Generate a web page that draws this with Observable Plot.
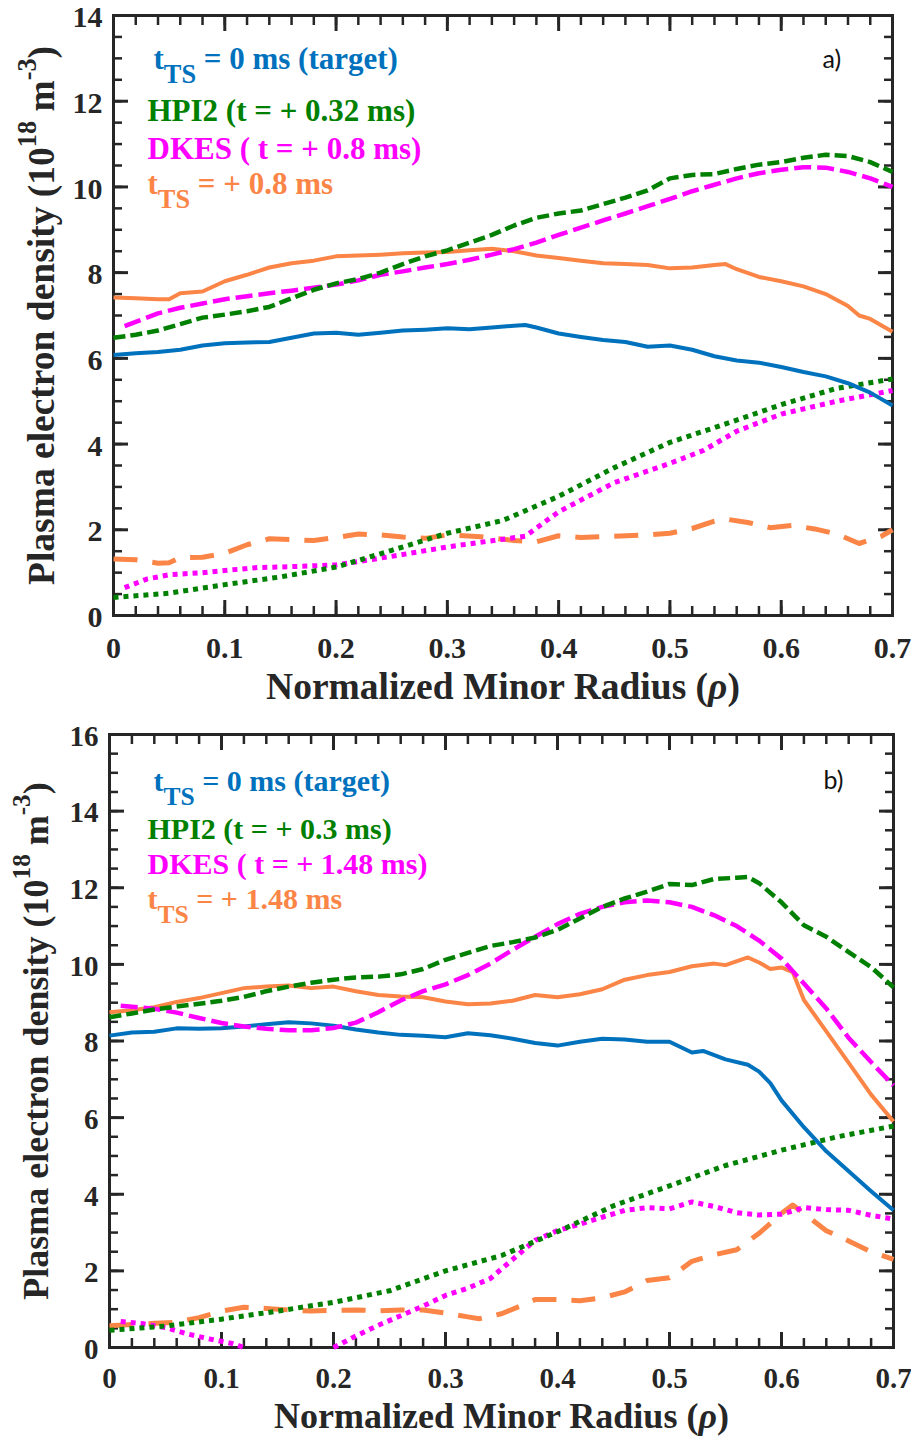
<!DOCTYPE html>
<html>
<head>
<meta charset="utf-8">
<script src="https://cdn.jsdelivr.net/npm/d3@7"></script>
<script src="https://cdn.jsdelivr.net/npm/@observablehq/plot@0.6"></script>
<style>
  html, body { margin: 0; padding: 0; background: #fff; }
  #chart svg { display: block; }
</style>
</head>
<body>
<div id="chart"></div>
<script>
// ---------- axes ----------
const X_TICKS = [0, 0.1, 0.2, 0.3, 0.4, 0.5, 0.6, 0.7];
const X_TICK_LABELS = ["0", "0.1", "0.2", "0.3", "0.4", "0.5", "0.6", "0.7"];
const Y_TICKS_A = [0, 2, 4, 6, 8, 10, 12, 14];
const Y_TICKS_B = [0, 2, 4, 6, 8, 10, 12, 14, 16];
const X_TITLE = "Normalized Minor Radius (~{ρ})";
const Y_TITLE = "Plasma electron density (10^{18} m^{-3})";

// ---------- panel a: t_TS = +0.8 ms ----------
const LEGEND_A = ["t_{TS} = 0 ms (target)", "HPI2 (t = + 0.32 ms)", "DKES ( t = + 0.8 ms)", "t_{TS} = + 0.8 ms"];

const aTargetRho = [0, 0.02, 0.04, 0.06, 0.08, 0.10, 0.12, 0.14, 0.16, 0.18, 0.20, 0.22, 0.24, 0.26, 0.28, 0.30, 0.32, 0.34, 0.36, 0.37, 0.38, 0.40, 0.42, 0.44, 0.46, 0.48, 0.50, 0.52, 0.54, 0.56, 0.58, 0.60, 0.62, 0.64, 0.66, 0.68, 0.70];
const aTargetNe  = [6.08, 6.12, 6.15, 6.2, 6.3, 6.35, 6.37, 6.38, 6.48, 6.58, 6.6, 6.55, 6.6, 6.65, 6.67, 6.7, 6.68, 6.72, 6.76, 6.78, 6.72, 6.58, 6.5, 6.43, 6.38, 6.27, 6.3, 6.2, 6.05, 5.95, 5.9, 5.8, 5.68, 5.58, 5.42, 5.2, 4.9];

const aTsRho = [0, 0.02, 0.04, 0.05, 0.06, 0.08, 0.10, 0.12, 0.14, 0.16, 0.18, 0.20, 0.22, 0.24, 0.26, 0.28, 0.30, 0.32, 0.34, 0.36, 0.38, 0.40, 0.42, 0.44, 0.46, 0.48, 0.50, 0.52, 0.54, 0.55, 0.56, 0.58, 0.60, 0.62, 0.64, 0.66, 0.67, 0.68, 0.70];
const aTsNe  = [7.42, 7.4, 7.38, 7.38, 7.52, 7.56, 7.8, 7.95, 8.12, 8.22, 8.28, 8.38, 8.4, 8.42, 8.45, 8.47, 8.48, 8.52, 8.56, 8.5, 8.4, 8.34, 8.28, 8.22, 8.2, 8.18, 8.1, 8.12, 8.18, 8.2, 8.08, 7.9, 7.8, 7.68, 7.5, 7.22, 7.0, 6.92, 6.62];

const aHpiRho = [0, 0.02, 0.04, 0.06, 0.08, 0.10, 0.12, 0.14, 0.16, 0.18, 0.20, 0.22, 0.24, 0.26, 0.28, 0.30, 0.32, 0.34, 0.36, 0.38, 0.40, 0.42, 0.44, 0.46, 0.48, 0.50, 0.52, 0.54, 0.56, 0.58, 0.60, 0.62, 0.64, 0.66, 0.68, 0.70];
const aHpiNe  = [6.48, 6.55, 6.65, 6.8, 6.95, 7.02, 7.1, 7.2, 7.4, 7.6, 7.75, 7.85, 8.0, 8.2, 8.38, 8.52, 8.7, 8.88, 9.1, 9.28, 9.38, 9.45, 9.6, 9.75, 9.92, 10.2, 10.28, 10.3, 10.42, 10.52, 10.58, 10.68, 10.75, 10.72, 10.58, 10.35];

const aDkesRho = [0.01, 0.02, 0.04, 0.06, 0.08, 0.10, 0.12, 0.14, 0.16, 0.18, 0.20, 0.22, 0.24, 0.26, 0.28, 0.30, 0.32, 0.34, 0.36, 0.38, 0.40, 0.42, 0.44, 0.46, 0.48, 0.50, 0.52, 0.54, 0.56, 0.58, 0.60, 0.62, 0.64, 0.66, 0.68, 0.70];
const aDkesNe  = [6.75, 6.85, 7.05, 7.18, 7.28, 7.38, 7.45, 7.52, 7.58, 7.65, 7.72, 7.82, 7.95, 8.03, 8.12, 8.2, 8.3, 8.42, 8.55, 8.7, 8.88, 9.05, 9.22, 9.38, 9.55, 9.72, 9.9, 10.05, 10.2, 10.32, 10.4, 10.46, 10.45, 10.35, 10.2, 10.0];

const aHpiLowRho = [0, 0.05, 0.10, 0.15, 0.20, 0.25, 0.30, 0.35, 0.40, 0.45, 0.50, 0.55, 0.60, 0.65, 0.70];
const aHpiLowNe  = [0.42, 0.52, 0.72, 0.9, 1.13, 1.52, 1.92, 2.22, 2.78, 3.45, 4.04, 4.47, 4.92, 5.3, 5.52];

const aDkesLowRho = [0.01, 0.03, 0.05, 0.08, 0.10, 0.13, 0.16, 0.20, 0.25, 0.30, 0.35, 0.37, 0.40, 0.45, 0.50, 0.53, 0.56, 0.60, 0.65, 0.70];
const aDkesLowNe  = [0.65, 0.85, 0.95, 1.0, 1.05, 1.12, 1.14, 1.18, 1.38, 1.6, 1.78, 1.85, 2.42, 3.1, 3.55, 3.85, 4.3, 4.7, 5.0, 5.25];

const aTsLowRho = [0, 0.02, 0.04, 0.05, 0.06, 0.08, 0.10, 0.12, 0.14, 0.16, 0.18, 0.20, 0.22, 0.24, 0.26, 0.28, 0.30, 0.33, 0.36, 0.38, 0.40, 0.42, 0.45, 0.48, 0.50, 0.52, 0.54, 0.55, 0.57, 0.59, 0.61, 0.63, 0.65, 0.67, 0.69, 0.70];
const aTsLowNe  = [1.32, 1.3, 1.22, 1.23, 1.35, 1.36, 1.45, 1.65, 1.79, 1.77, 1.75, 1.82, 1.9, 1.88, 1.83, 1.8, 1.88, 1.84, 1.75, 1.72, 1.86, 1.82, 1.85, 1.88, 1.92, 2.03, 2.2, 2.25, 2.17, 2.05, 2.1, 2.02, 1.9, 1.68, 1.85, 2.0];

// ---------- panel b: t_TS = +1.48 ms ----------
const LEGEND_B = ["t_{TS} = 0 ms (target)", "HPI2 (t = + 0.3 ms)", "DKES ( t = + 1.48 ms)", "t_{TS} = + 1.48 ms"];

const bTargetRho = [0, 0.02, 0.04, 0.06, 0.08, 0.10, 0.12, 0.14, 0.16, 0.18, 0.20, 0.22, 0.24, 0.26, 0.28, 0.30, 0.32, 0.34, 0.36, 0.38, 0.40, 0.42, 0.44, 0.46, 0.48, 0.50, 0.52, 0.53, 0.55, 0.57, 0.58, 0.59, 0.60, 0.62, 0.64, 0.66, 0.68, 0.70];
const bTargetNe  = [8.14, 8.22, 8.24, 8.33, 8.32, 8.33, 8.38, 8.44, 8.49, 8.46, 8.4, 8.3, 8.22, 8.16, 8.14, 8.1, 8.2, 8.15, 8.06, 7.95, 7.88, 7.98, 8.06, 8.04, 7.98, 7.98, 7.7, 7.74, 7.52, 7.38, 7.2, 6.9, 6.45, 5.75, 5.12, 4.6, 4.08, 3.58];

const bTsRho = [0, 0.02, 0.04, 0.06, 0.08, 0.10, 0.12, 0.14, 0.16, 0.18, 0.20, 0.22, 0.24, 0.26, 0.28, 0.30, 0.32, 0.34, 0.36, 0.38, 0.40, 0.42, 0.44, 0.46, 0.48, 0.50, 0.52, 0.54, 0.55, 0.57, 0.58, 0.59, 0.60, 0.61, 0.62, 0.64, 0.66, 0.68, 0.70];
const bTsNe  = [8.75, 8.8, 8.88, 9.02, 9.12, 9.25, 9.38, 9.42, 9.45, 9.38, 9.42, 9.3, 9.2, 9.16, 9.14, 9.03, 8.96, 8.98, 9.05, 9.2, 9.14, 9.22, 9.35, 9.6, 9.72, 9.8, 9.95, 10.02, 9.98, 10.18, 10.05, 9.88, 9.92, 9.8, 9.07, 8.25, 7.43, 6.6, 5.9];

const bHpiRho = [0, 0.02, 0.04, 0.06, 0.08, 0.10, 0.12, 0.14, 0.16, 0.18, 0.20, 0.22, 0.24, 0.26, 0.28, 0.30, 0.32, 0.34, 0.36, 0.38, 0.40, 0.42, 0.44, 0.46, 0.48, 0.50, 0.52, 0.54, 0.56, 0.57, 0.58, 0.60, 0.62, 0.64, 0.66, 0.68, 0.70];
const bHpiNe  = [8.62, 8.72, 8.82, 8.9, 8.97, 9.05, 9.15, 9.3, 9.42, 9.52, 9.6, 9.66, 9.68, 9.74, 9.88, 10.12, 10.3, 10.48, 10.58, 10.7, 10.9, 11.2, 11.5, 11.72, 11.9, 12.1, 12.07, 12.23, 12.26, 12.28, 12.12, 11.62, 11.02, 10.72, 10.32, 9.93, 9.4];

const bDkesRho = [0.01, 0.04, 0.06, 0.08, 0.10, 0.12, 0.14, 0.16, 0.18, 0.20, 0.22, 0.24, 0.26, 0.28, 0.30, 0.32, 0.34, 0.36, 0.38, 0.40, 0.42, 0.44, 0.46, 0.48, 0.50, 0.52, 0.54, 0.56, 0.58, 0.60, 0.62, 0.64, 0.66, 0.68, 0.70];
const bDkesNe  = [8.92, 8.84, 8.74, 8.6, 8.47, 8.38, 8.32, 8.28, 8.28, 8.34, 8.48, 8.75, 9.06, 9.3, 9.48, 9.72, 10.02, 10.38, 10.72, 11.05, 11.32, 11.5, 11.62, 11.67, 11.62, 11.5, 11.28, 11.0, 10.62, 10.15, 9.5, 8.85, 8.08, 7.45, 6.84];

const bHpiLowRho = [0, 0.05, 0.10, 0.15, 0.20, 0.25, 0.30, 0.35, 0.40, 0.45, 0.50, 0.55, 0.60, 0.65, 0.70];
const bHpiLowNe  = [0.45, 0.56, 0.74, 0.95, 1.18, 1.48, 2.0, 2.4, 3.02, 3.7, 4.22, 4.75, 5.15, 5.5, 5.78];

// below zero between rho 0.12 and 0.20 (off the axis): left as a gap
const bDkesLowRho = [0.01, 0.03, 0.05, 0.07, 0.09, 0.11, 0.12, 0.14, 0.20, 0.22, 0.24, 0.26, 0.28, 0.30, 0.32, 0.34, 0.36, 0.38, 0.40, 0.42, 0.44, 0.46, 0.48, 0.50, 0.52, 0.54, 0.56, 0.58, 0.60, 0.62, 0.64, 0.66, 0.68, 0.70];
const bDkesLowNe  = [0.68, 0.62, 0.52, 0.35, 0.22, 0.1, 0.0, null, 0.0, 0.3, 0.58, 0.83, 1.08, 1.36, 1.55, 1.8, 2.3, 2.8, 3.05, 3.22, 3.4, 3.58, 3.65, 3.62, 3.8, 3.68, 3.52, 3.46, 3.48, 3.65, 3.6, 3.58, 3.45, 3.35];

const bTsLowRho = [0, 0.02, 0.04, 0.06, 0.08, 0.10, 0.12, 0.14, 0.16, 0.18, 0.20, 0.22, 0.24, 0.26, 0.28, 0.30, 0.32, 0.33, 0.35, 0.37, 0.38, 0.40, 0.42, 0.44, 0.46, 0.48, 0.50, 0.52, 0.54, 0.56, 0.58, 0.60, 0.61, 0.62, 0.64, 0.66, 0.68, 0.70];
const bTsLowNe  = [0.57, 0.6, 0.63, 0.66, 0.78, 0.95, 1.05, 1.02, 0.98, 0.95, 0.97, 0.98, 0.96, 0.98, 0.98, 0.9, 0.8, 0.75, 0.88, 1.12, 1.25, 1.25, 1.22, 1.3, 1.45, 1.75, 1.82, 2.25, 2.42, 2.55, 2.98, 3.5, 3.72, 3.5, 3.05, 2.78, 2.5, 2.3];

// ---------- styling ----------
const SERIF = "'Liberation Serif', 'Times New Roman', serif";
const SANS = "Lato, 'Open Sans', sans-serif";
const INK = "#262626";
const COLORS = {target: "#0072bd", hpi: "#008000", dkes: "#ff00ff", ts: "#fb8546"};
const LEGEND_COLORS = [COLORS.target, COLORS.hpi, COLORS.dkes, COLORS.ts];
const STYLES = {
  target:  {stroke: COLORS.target, strokeWidth: 4},
  ts:      {stroke: COLORS.ts, strokeWidth: 4},
  hpi:     {stroke: COLORS.hpi, strokeWidth: 4.5, strokeDasharray: "12,5"},
  dkes:    {stroke: COLORS.dkes, strokeWidth: 4.5, strokeDasharray: "17,6"},
  hpiLow:  {stroke: COLORS.hpi, strokeWidth: 5, strokeDasharray: "5,5"},
  dkesLow: {stroke: COLORS.dkes, strokeWidth: 5, strokeDasharray: "5,5"},
  tsLow:   {stroke: COLORS.ts, strokeWidth: 5, strokeDasharray: "24,15"}
};

const rows = (rho, ne) => rho.map((r, i) => ({rho: r, ne: ne[i]}));

const seriesA = [
  ["tsLow", rows(aTsLowRho, aTsLowNe)],
  ["dkesLow", rows(aDkesLowRho, aDkesLowNe)],
  ["hpiLow", rows(aHpiLowRho, aHpiLowNe)],
  ["target", rows(aTargetRho, aTargetNe)],
  ["ts", rows(aTsRho, aTsNe)],
  ["dkes", rows(aDkesRho, aDkesNe)],
  ["hpi", rows(aHpiRho, aHpiNe)]
];
const seriesB = [
  ["tsLow", rows(bTsLowRho, bTsLowNe)],
  ["dkesLow", rows(bDkesLowRho, bDkesLowNe)],
  ["hpiLow", rows(bHpiLowRho, bHpiLowNe)],
  ["target", rows(bTargetRho, bTargetNe)],
  ["ts", rows(bTsRho, bTsNe)],
  ["dkes", rows(bDkesRho, bDkesNe)],
  ["hpi", rows(bHpiRho, bHpiNe)]
];

// Rewrites "_{..}" (subscript), "^{..}" (superscript) and "~{..}" (italic)
// markup in a text element as tspans.
function richText(node, {size, sub, sup, scale}) {
  const el = d3.select(node);
  const src = el.text();
  el.text(null).style("white-space", "pre");
  let off = 0;
  for (const part of src.split(/([_^~]\{[^}]*\})/)) {
    if (!part) continue;
    let txt = part, shift = 0, small = false, italic = false;
    if (/^[_^~]\{/.test(part)) {
      txt = part.slice(2, -1);
      if (part[0] === "_") { shift = sub; small = true; }
      else if (part[0] === "^") { shift = -sup; small = true; }
      else italic = true;
    }
    const t = el.append("tspan").text(txt);
    if (shift !== off) t.attr("dy", shift - off);
    if (small) t.attr("font-size", size * scale);
    if (italic) t.attr("font-style", "italic");
    off = shift;
  }
}

function panel(o) {
  const xMinor = d3.range(0, 0.7001, 0.02);
  const yMinor = d3.range(0, o.yMax + 0.001, 0.5);
  const marks = [Plot.frame({stroke: INK, strokeWidth: 3})];

  // inward tick marks on all four sides
  for (const anchor of ["bottom", "top"]) {
    marks.push(Plot.axisX(xMinor, {anchor, tickSize: -9, strokeWidth: 2.5, tickFormat: () => "", label: null}));
    marks.push(Plot.axisX(X_TICKS, {anchor, tickSize: -15, strokeWidth: 3, tickFormat: () => "", label: null}));
  }
  for (const anchor of ["left", "right"]) {
    marks.push(Plot.axisY(yMinor, {anchor, tickSize: -9, strokeWidth: 2.5, tickFormat: () => "", label: null}));
    marks.push(Plot.axisY(o.yTicks, {anchor, tickSize: -15, strokeWidth: 3, tickFormat: () => "", label: null}));
  }
  // tick labels
  marks.push(Plot.axisX(X_TICKS, {
    anchor: "bottom", tickSize: 0, tickPadding: o.xPad, label: null,
    tickFormat: d => X_TICK_LABELS[X_TICKS.indexOf(d)],
    fontFamily: SERIF, fontWeight: "bold", fontSize: o.tickFont
  }));
  marks.push(Plot.axisY(o.yTicks, {
    anchor: "left", tickSize: 0, tickPadding: 11, label: null, dy: 2,
    tickFormat: d => String(d),
    fontFamily: SERIF, fontWeight: "bold", fontSize: o.tickFont
  }));

  // profiles
  for (const [key, data] of o.series) {
    marks.push(Plot.line(data, {x: "rho", y: "ne", ...STYLES[key], strokeLinecap: "butt", strokeLinejoin: "round"}));
  }

  // in-plot legend
  o.legend.forEach((txt, i) => {
    marks.push(Plot.text([txt], {
      text: d => d, frameAnchor: "top-left", dx: o.legendX[i], dy: o.legendY[i],
      textAnchor: "start", lineAnchor: "bottom", fill: LEGEND_COLORS[i],
      fontSize: o.legendFont, fontWeight: "bold", fontFamily: SERIF
    }));
  });

  // panel tag
  marks.push(Plot.text([o.tag], {
    text: d => d, frameAnchor: "top-right", dx: -70, dy: o.tagY,
    textAnchor: "start", lineAnchor: "bottom", fill: "#111",
    fontSize: 25, fontFamily: SANS
  }));

  // axis titles
  marks.push(Plot.text([X_TITLE], {
    text: d => d, frameAnchor: "bottom", dy: o.xTitleY, textAnchor: "middle", lineAnchor: "bottom",
    fontSize: o.titleFont, fontWeight: "bold", fontFamily: SERIF, fill: INK
  }));
  marks.push(Plot.text([Y_TITLE], {
    text: d => d, frameAnchor: "left", dx: o.yTitleX, rotate: -90, textAnchor: "middle", lineAnchor: "bottom",
    fontSize: o.titleFont, fontWeight: "bold", fontFamily: SERIF, fill: INK
  }));

  const svg = Plot.plot({
    width: 911, height: o.height,
    marginTop: o.m[0], marginRight: o.m[1], marginBottom: o.m[2], marginLeft: o.m[3],
    x: {domain: [0, 0.7]},
    y: {domain: [0, o.yMax]},
    style: {color: INK, background: "#fff", fontFamily: SERIF},
    marks
  });

  const root = d3.select(svg).attr("font-family", SERIF);
  const tickTexts = new Set([...X_TICK_LABELS, ...o.yTicks.map(String)]);
  root.selectAll("text").each(function () {
    const s = this.textContent;
    // tick labels: bold serif
    if (tickTexts.has(s)) {
      d3.select(this).attr("font-family", SERIF).attr("font-weight", "bold")
        .attr("font-size", o.tickFont).attr("fill", INK);
      return;
    }
    // rich text (subscripts, superscripts, italics)
    if (!/[_^~]\{/.test(s)) return;
    if (s === Y_TITLE) richText(this, {size: o.titleFont, sub: 0, sup: 18, scale: 0.7});
    else if (s === X_TITLE) richText(this, {size: o.titleFont, sub: 0, sup: 0, scale: 1});
    else richText(this, {size: o.legendFont, sub: 14, sup: 0, scale: 0.85});
  });
  return svg;
}

const chart = document.getElementById("chart");
chart.append(panel({
  series: seriesA, yMax: 14, yTicks: Y_TICKS_A, height: 715, m: [15, 19, 100, 113],
  tickFont: 30, xPad: 21, titleFont: 37.5, legendFont: 31,
  legend: LEGEND_A, legendX: [40, 34, 34, 34], legendY: [53, 105, 143, 178],
  tag: "a)", tagY: 52, xTitleY: 83, yTitleX: -60
}));
chart.append(panel({
  series: seriesB, yMax: 16, yTicks: Y_TICKS_B, height: 724, m: [19, 18, 92, 109],
  tickFont: 29, xPad: 20, titleFont: 36, legendFont: 30,
  legend: LEGEND_B, legendX: [44, 38, 38, 38], legendY: [56, 104, 139, 174],
  tag: "b)", tagY: 54, xTitleY: 80, yTitleX: -62
}));
</script>
</body>
</html>
